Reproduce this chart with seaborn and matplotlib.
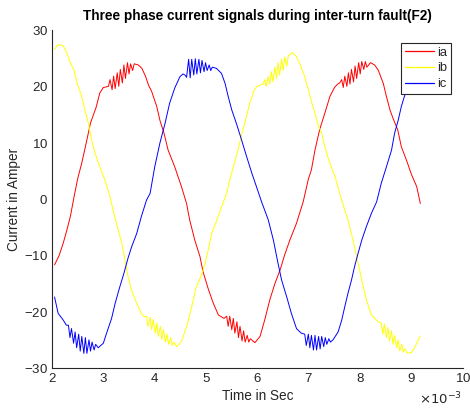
import numpy as np
import pandas as pd
import seaborn as sns
import matplotlib
matplotlib.use("Agg")
import matplotlib.pyplot as plt

# Phase A current (time in ms, current in A)
t_ia = [2.05, 2.14, 2.22, 2.29, 2.36, 2.43, 2.50, 2.58, 2.67, 2.75, 2.86, 2.93, 3.00, 3.06,
        3.10, 3.13, 3.17, 3.20, 3.23, 3.27, 3.30, 3.33, 3.37, 3.40, 3.43, 3.47, 3.50, 3.53, 3.57, 3.60,
        3.68, 3.75, 3.82, 3.88, 3.94, 4.04, 4.10, 4.18, 4.26, 4.39, 4.52, 4.62, 4.68, 4.78, 4.88,
        4.94, 5.04, 5.14, 5.24, 5.35,
        5.40, 5.43, 5.46, 5.50, 5.53, 5.56, 5.60, 5.63, 5.66, 5.70, 5.73, 5.76, 5.80, 5.83, 5.86,
        5.95, 6.05, 6.14, 6.24, 6.34, 6.44, 6.53, 6.63, 6.76, 6.89, 6.99, 7.05, 7.12, 7.21, 7.31,
        7.41, 7.50, 7.56,
        7.60, 7.64, 7.67, 7.70, 7.74, 7.77, 7.80, 7.83, 7.87, 7.90, 7.93, 7.97, 8.00, 8.03, 8.07,
        8.10, 8.13,
        8.20, 8.28, 8.35, 8.45, 8.51, 8.58, 8.64, 8.73, 8.80, 8.90, 9.00, 9.10, 9.17]
ia = [-11.7, -10.0, -7.8, -5.5, -3.0, 0.4, 3.6, 6.4, 10.1, 13.5, 16.3, 18.8, 19.8, 19.9,
      20.0, 21.2, 19.4, 21.8, 19.6, 22.4, 20.0, 23.0, 20.6, 23.8, 21.4, 24.2, 22.2, 24.0, 22.8, 24.0,
      23.8, 23.2, 21.8, 20.2, 19.1, 16.4, 14.0, 11.7, 8.7, 5.7, 2.2, -0.8, -3.7, -7.3, -10.2,
      -12.9, -15.9, -18.5, -20.6, -21.2,
      -20.8, -22.6, -20.8, -23.2, -21.2, -23.8, -21.8, -24.6, -22.6, -25.2, -23.4, -25.4, -24.2, -25.4, -24.8,
      -25.5, -24.4, -21.5, -17.9, -15.0, -12.6, -9.9, -7.3, -4.3, -0.5, 3.5, 5.2, 8.7, 12.3, 15.2,
      18.2, 19.8, 20.4,
      20.6, 21.2, 19.8, 21.8, 20.0, 22.4, 20.4, 23.0, 20.8, 23.6, 21.4, 24.2, 22.2, 24.4, 23.0,
      24.4, 23.4,
      24.2, 23.8, 22.9, 20.5, 18.2, 15.8, 14.3, 12.3, 9.3, 6.9, 4.3, 2.2, -0.8]

# Phase B current
t_ib = [2.05, 2.12, 2.22, 2.29, 2.36, 2.43, 2.49, 2.58, 2.64, 2.71, 2.77, 2.84, 2.93, 3.03,
        3.13, 3.19, 3.26, 3.36, 3.42, 3.48, 3.55, 3.65, 3.74, 3.80,
        3.84, 3.87, 3.91, 3.94, 3.97, 4.01, 4.04, 4.07, 4.11, 4.14, 4.17, 4.21, 4.24, 4.27, 4.31,
        4.34, 4.37,
        4.43, 4.52, 4.62, 4.72, 4.81, 4.91, 4.98, 5.04, 5.11, 5.20, 5.30, 5.40, 5.46, 5.54, 5.62,
        5.69, 5.75, 5.85, 5.93, 5.98, 6.05,
        6.11, 6.14, 6.17, 6.21, 6.24, 6.27, 6.30, 6.34, 6.37, 6.40, 6.43, 6.47, 6.50, 6.53, 6.57, 6.60,
        6.68, 6.75, 6.82, 6.92, 6.99, 7.05, 7.12, 7.18, 7.25, 7.31, 7.41, 7.51, 7.60, 7.64, 7.70,
        7.76, 7.86, 7.96, 8.03, 8.12, 8.22, 8.35,
        8.41, 8.44, 8.47, 8.51, 8.54, 8.57, 8.61, 8.64, 8.67, 8.71, 8.74, 8.77, 8.81, 8.84, 8.87,
        8.92, 9.00, 9.06, 9.12, 9.17]
ib = [26.6, 27.4, 27.2, 25.9, 24.1, 22.9, 20.5, 18.2, 15.8, 13.4, 10.5, 8.1, 5.7, 3.4,
      0.4, -2.0, -4.5, -7.9, -10.8, -13.8, -16.2, -18.5, -20.4, -20.9,
      -20.8, -22.6, -21.0, -23.2, -21.4, -23.8, -22.0, -24.4, -22.6, -25.0, -23.2, -25.4, -24.0, -25.8, -24.6,
      -26.0, -25.4,
      -26.2, -25.3, -22.7, -19.1, -15.6, -13.5, -11.4, -9.1, -6.1, -4.0, -1.4, 1.0, 3.4, 6.0, 8.7,
      11.4, 13.4, 17.0, 19.2, 19.9, 20.2,
      20.4, 21.2, 20.0, 21.8, 20.4, 22.6, 20.8, 23.4, 21.4, 24.2, 22.0, 24.8, 22.8, 25.2, 23.6, 25.4,
      26.0, 25.4, 24.1, 21.7, 19.4, 17.3, 15.2, 13.1, 11.7, 9.3, 6.3, 4.0, 1.0, -0.2, -2.0,
      -3.7, -7.3, -11.4, -14.4, -17.9, -20.6, -21.8,
      -22.0, -24.0, -22.2, -24.6, -22.8, -25.2, -23.4, -25.8, -24.2, -26.4, -25.0, -27.0, -25.8, -27.2, -26.6,
      -27.4, -27.2, -26.4, -25.2, -24.3]

# Phase C current
t_ic = [2.05, 2.12, 2.22, 2.28,
        2.32, 2.35, 2.38, 2.42, 2.45, 2.48, 2.52, 2.55, 2.58, 2.62, 2.65, 2.68, 2.72, 2.75, 2.78,
        2.82, 2.85,
        2.90, 3.00, 3.06, 3.16, 3.23, 3.32, 3.40, 3.48, 3.55, 3.65, 3.74, 3.84, 3.91, 4.00, 4.10,
        4.20, 4.29, 4.39, 4.49, 4.55,
        4.59, 4.62, 4.66, 4.69, 4.72, 4.76, 4.79, 4.82, 4.86, 4.89, 4.92, 4.96, 4.99, 5.02, 5.06,
        5.09, 5.12,
        5.20, 5.30, 5.37, 5.43, 5.50, 5.59, 5.67, 5.79, 5.89, 5.98, 6.08, 6.21, 6.31, 6.40, 6.47,
        6.57, 6.66, 6.76, 6.85,
        6.92, 6.95, 6.99, 7.02, 7.05, 7.09, 7.12, 7.15, 7.19, 7.22, 7.25, 7.29, 7.32, 7.35, 7.39, 7.42,
        7.47, 7.57, 7.64, 7.70, 7.76, 7.83, 7.89, 7.96, 8.03, 8.12, 8.22, 8.32, 8.41, 8.51, 8.61,
        8.67, 8.74, 8.80, 8.87, 8.95, 9.05, 9.17]
ic = [-17.4, -20.3, -21.5, -22.4,
      -22.4, -24.6, -23.0, -25.6, -23.6, -26.4, -24.0, -27.0, -24.4, -27.4, -24.6, -27.4, -25.0, -27.0, -25.4,
      -26.8, -25.8,
      -26.4, -25.6, -23.9, -21.2, -18.5, -15.6, -13.2, -10.5, -8.5, -6.1, -3.1, -0.2, 1.0, 5.7, 9.9,
      13.4, 17.0, 19.7, 21.7, 22.2,
      22.0, 21.6, 24.8, 21.5, 24.8, 22.0, 24.9, 22.2, 24.8, 22.4, 24.6, 22.6, 24.2, 22.8, 23.8,
      22.8, 23.4,
      23.2, 22.3, 20.5, 18.2, 15.8, 13.4, 11.1, 7.5, 4.6, 2.2, -0.5, -3.7, -7.3, -11.4, -14.4,
      -17.4, -20.3, -23.0, -23.8,
      -24.0, -26.0, -24.0, -26.4, -24.2, -26.8, -24.2, -26.8, -24.4, -26.6, -24.4, -26.2, -24.6, -25.8, -24.8, -25.4,
      -25.0, -23.6, -21.5, -19.1, -16.8, -14.4, -12.0, -9.6, -7.3, -4.9, -2.5, -0.5, 2.8, 5.7, 8.7,
      11.7, 14.0, 16.4, 18.5, 20.5, 21.8, 23.0]

phases = ["ia", "ib", "ic"]
colors = ["#ff0000", "#ffff00", "#0000ff"]

frames = []
for name, tt, vv in zip(phases, [t_ia, t_ib, t_ic], [ia, ib, ic]):
    frames.append(pd.DataFrame({"time": np.array(tt) * 1e-3, "current": vv, "phase": name}))
df = pd.concat(frames, ignore_index=True)

sns.set_theme(style="white")
plt.rcParams["font.family"] = ["Liberation Sans", "DejaVu Sans"]
plt.rcParams["axes.formatter.use_mathtext"] = True
plt.rcParams["axes.unicode_minus"] = False

fig = plt.figure(figsize=(4.70, 4.11), dpi=100)
ax = fig.add_axes([0.1106, 0.1046, 0.8744, 0.8224])

sns.lineplot(data=df, x="time", y="current", hue="phase", palette=colors,
             estimator=None, sort=False, linewidth=0.7, ax=ax)

dark = "#262626"
ax.set_xlim(0.002, 0.010)
ax.set_ylim(-30, 30)
ax.set_xticks(np.arange(0.002, 0.0101, 0.001))
ax.set_yticks(np.arange(-30, 31, 10))
ax.ticklabel_format(axis="x", style="sci", scilimits=(-3, -3), useMathText=True)
ax.set_title("Three phase current signals during inter-turn fault(F2)",
             fontsize=9.8, fontweight="bold", color="black", pad=7)
ax.set_xlabel("Time in Sec", fontsize=9.8, color=dark, labelpad=3)
ax.set_ylabel("Current in Amper", fontsize=9.8, color=dark, labelpad=2)

for side in ["top", "right"]:
    ax.spines[side].set_visible(False)
for side in ["left", "bottom"]:
    ax.spines[side].set_color(dark)
    ax.spines[side].set_linewidth(0.8)
ax.tick_params(axis="both", direction="in", length=3.5, width=0.8, colors=dark,
               labelsize=9.5, pad=3)

# exponent of the time axis, placed under the right end of the axis
ax.xaxis.get_offset_text().set_visible(False)
fig.text(0.983, 0.008, r"$\times10^{-3}$", ha="right", va="bottom",
         fontsize=9.5, color=dark)

leg = ax.legend(loc="upper right", bbox_to_anchor=(0.972, 0.962), fontsize=9.3,
                frameon=True, fancybox=False, framealpha=1, edgecolor=dark,
                handlelength=2.2, handletextpad=0.3, borderpad=0.3, labelspacing=0.28,
                borderaxespad=0.0, title=None)
leg.get_frame().set_linewidth(0.8)
for line in leg.get_lines():
    line.set_linewidth(0.9)

fig.savefig("out.png", dpi=100, facecolor="white")
